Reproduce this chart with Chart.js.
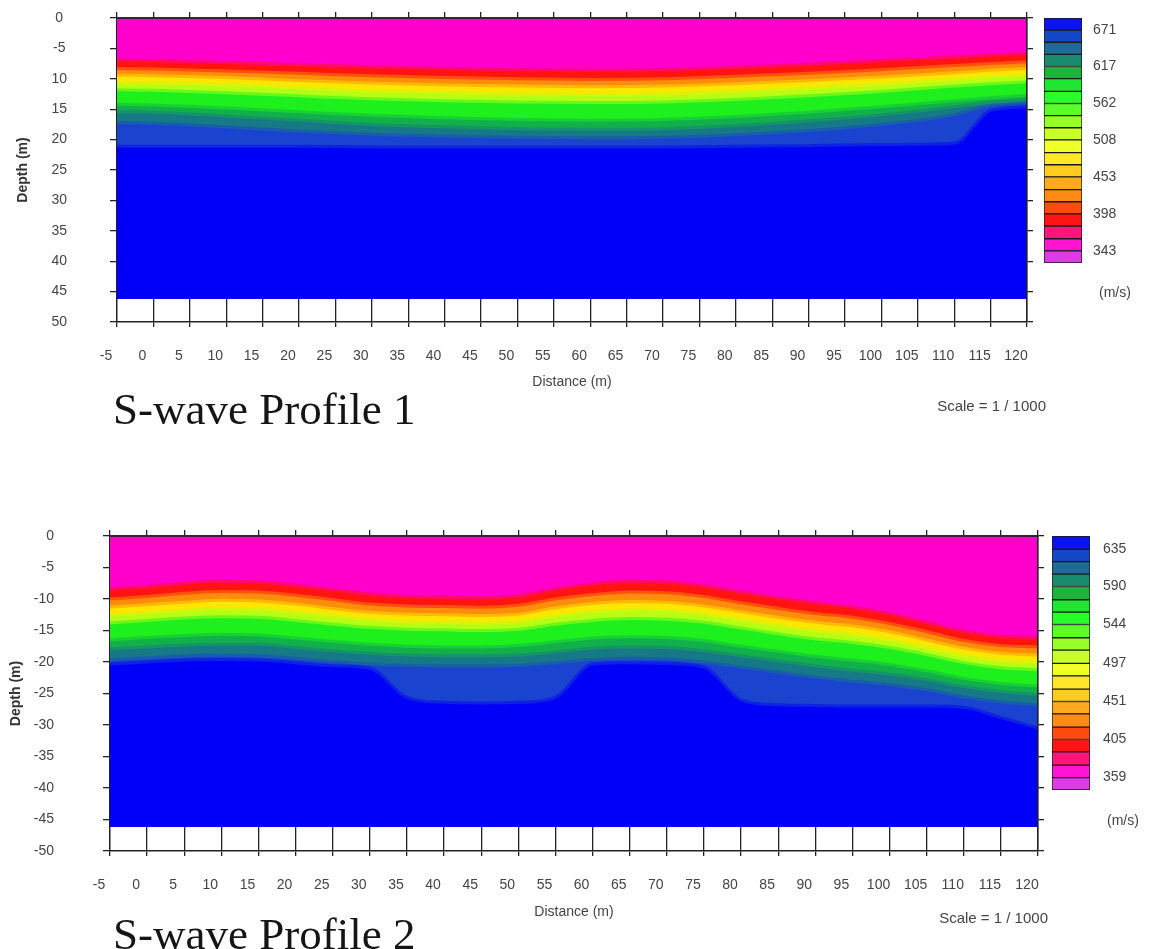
<!DOCTYPE html>
<html><head><meta charset="utf-8">
<script src="https://cdn.jsdelivr.net/npm/chart.js@4.4.1/dist/chart.umd.min.js"></script>
<style>
html,body{margin:0;padding:0;background:#fff;}
body{width:1151px;height:949px;overflow:hidden;position:relative;font-family:"Liberation Sans",Arial,sans-serif;}
canvas{position:absolute;}
.t{position:absolute;white-space:nowrap;}
.title{font-family:"Liberation Serif","Times New Roman",serif;font-size:45px;line-height:45px;color:#151515;}
.small{font-size:15px;line-height:15px;color:#444;}
.unit{font-size:14px;line-height:14px;color:#444;}
</style></head><body>
<canvas id="p1" width="1151" height="440" style="left:0;top:0"></canvas>
<canvas id="cb1" width="121" height="280" style="left:1030px;top:0"></canvas>
<canvas id="p2" width="1151" height="489" style="left:0;top:460px"></canvas>
<canvas id="cb2" width="115" height="290" style="left:1036px;top:520px"></canvas>
<div class="t title" style="left:113px;top:387px">S-wave Profile 1</div>
<div class="t title" style="left:113px;top:912px">S-wave Profile 2</div>
<div class="t small" style="right:105px;top:398px">Scale = 1 / 1000</div>
<div class="t small" style="right:103px;top:910px">Scale = 1 / 1000</div>
<div class="t unit" style="left:1099px;top:285px">(m/s)</div>
<div class="t unit" style="left:1107px;top:813px">(m/s)</div>
<script>
// ---------- tick labels ----------
const xTickLabels = ['-5','0','5','10','15','20','25','30','35','40','45','50','55','60','65','70','75','80','85','90','95','100','105','110','115','120'];
const p1YTickLabels = ['0','-5','10','15','20','25','30','35','40','45','50'];
const p2YTickLabels = ['0','-5','-10','-15','-20','-25','-30','-35','-40','-45','-50'];

// ---------- Profile 1: depth (m) of the top of each velocity band ----------
const p1Distance = [-5, 0, 10, 20, 30, 40, 50, 60, 70, 80, 90, 100, 110, 115, 120];
const p1Red      = [6.9, 7.0, 7.3, 7.7, 8.0, 8.3, 8.5, 8.6, 8.5, 8.1, 7.6, 7.0, 6.4, 6.1, 5.8];
const p1Orange   = [8.3, 8.4, 8.7, 9.1, 9.5, 9.8, 10.0, 10.1, 10.0, 9.6, 9.1, 8.5, 7.8, 7.5, 7.2];
const p1Yellow   = [9.4, 9.5, 9.8, 10.3, 10.7, 11.0, 11.2, 11.3, 11.2, 10.8, 10.3, 9.7, 9.0, 8.6, 8.3];
const p1YGreen   = [10.6, 10.7, 11.0, 11.5, 12.0, 12.3, 12.5, 12.6, 12.5, 12.1, 11.5, 10.9, 10.1, 9.7, 9.4];
const p1Green    = [11.8, 11.9, 12.3, 12.8, 13.3, 13.6, 13.8, 13.9, 13.8, 13.4, 12.8, 12.1, 11.2, 10.8, 10.5];
const p1DGreen   = [14.2, 14.3, 14.8, 15.4, 16.0, 16.4, 16.7, 16.8, 16.7, 16.2, 15.5, 14.6, 13.6, 13.1, 12.7];
const p1Teal     = [15.4, 15.5, 16.1, 16.8, 17.5, 17.9, 18.2, 18.3, 18.2, 17.7, 16.9, 15.9, 14.6, 13.9, 13.5];
const p1DBlue    = [17.2, 17.3, 17.9, 18.6, 19.1, 19.4, 19.6, 19.7, 19.6, 19.2, 18.5, 17.5, 15.9, 14.3, 13.8];
const p1Blue     = [21.1, 21.1, 21.1, 21.1, 21.2, 21.2, 21.2, 21.2, 21.2, 21.1, 21.0, 20.8, 20.6, 15.2, 14.6];

// ---------- Profile 2 ----------
const p2Distance = [-5, 0, 5, 10, 15, 20, 25, 30, 35, 40, 45, 50, 55, 60, 65, 70, 75, 80, 85, 90, 95, 100, 105, 110, 115, 120];
const p2Red      = [8.4, 8.0, 7.5, 7.2, 7.3, 7.8, 8.5, 9.2, 9.6, 9.7, 9.8, 9.5, 8.4, 7.6, 7.2, 7.3, 7.9, 8.9, 9.8, 10.6, 11.3, 12.3, 13.7, 15.1, 15.9, 16.1];
const p2Orange   = [10.0, 9.6, 9.1, 8.8, 8.9, 9.4, 10.1, 10.8, 11.1, 11.2, 11.3, 11.0, 10.0, 9.3, 8.9, 9.0, 9.6, 10.6, 11.5, 12.3, 12.9, 13.9, 15.2, 16.6, 17.4, 17.6];
const p2Yellow   = [11.3, 10.9, 10.5, 10.2, 10.3, 10.8, 11.5, 12.1, 12.4, 12.5, 12.6, 12.4, 11.4, 10.7, 10.4, 10.5, 11.1, 12.0, 12.9, 13.7, 14.3, 15.2, 16.5, 17.8, 18.6, 18.9];
const p2YGreen   = [12.5, 12.2, 11.8, 11.5, 11.6, 12.1, 12.7, 13.3, 13.6, 13.7, 13.8, 13.6, 12.7, 12.0, 11.7, 11.8, 12.4, 13.3, 14.2, 15.0, 15.6, 16.5, 17.7, 19.0, 19.8, 20.1];
const p2Green    = [13.8, 13.4, 13.0, 12.8, 12.9, 13.4, 14.0, 14.5, 14.8, 14.9, 15.0, 14.8, 14.0, 13.4, 13.1, 13.2, 13.7, 14.6, 15.5, 16.3, 16.9, 17.7, 18.8, 20.1, 20.9, 21.2];
const p2DGreen   = [16.5, 16.1, 15.8, 15.6, 15.7, 16.2, 16.7, 17.2, 17.5, 17.6, 17.6, 17.4, 16.8, 16.2, 16.0, 16.1, 16.6, 17.5, 18.3, 19.1, 19.7, 20.4, 21.4, 22.6, 23.4, 23.8];
const p2Teal     = [17.9, 17.6, 17.3, 17.2, 17.2, 17.7, 18.2, 18.6, 18.9, 19.0, 19.0, 18.9, 18.4, 17.8, 17.6, 17.7, 18.2, 19.0, 19.8, 20.6, 21.3, 21.9, 22.8, 23.9, 24.7, 25.2];
const p2DBlue    = [19.6, 19.3, 19.0, 18.9, 19.0, 19.4, 19.9, 20.3, 20.5, 20.6, 20.6, 20.5, 20.1, 19.6, 19.4, 19.5, 20.0, 20.8, 21.6, 22.4, 23.0, 23.6, 24.4, 25.5, 26.3, 26.8];
const p2Blue     = [20.3, 20.0, 19.7, 19.6, 19.7, 20.1, 20.6, 21.0, 25.6, 26.4, 26.5, 26.4, 25.6, 20.3, 20.1, 20.2, 20.8, 26.0, 26.8, 26.9, 27.0, 27.0, 27.0, 27.2, 28.8, 30.5];

const modelBottom = 46.2;   // depth where the velocity model ends (m)

// colour of each band, from the surface down
const bandColors = ['#ff00cc','#ff1410','#ff8c0a','#ffe600','#b4ff14','#1ef01e','#12b04a','#167a86','#1a44d0','#0000f8'];

// ---------- colour scales ----------
const cb1Levels = [325, 343, 361, 380, 398, 416, 434, 453, 471, 489, 508, 526, 544, 562, 580, 599, 617, 635, 653, 671, 689];
const cb1Ticks  = [343, 398, 453, 508, 562, 617, 671];
const cb2Levels = [344, 359, 374, 390, 405, 420, 436, 451, 466, 482, 497, 513, 528, 544, 559, 574, 590, 605, 620, 635, 651];
const cb2Ticks  = [359, 405, 451, 497, 544, 590, 635];
const cbColors  = ['#dc3ce6','#ff14d2','#ff1478','#ff1414','#ff4a0f','#ff8a14','#ffaa1e','#ffcc1e','#ffe628','#f0ff28',
                   '#c8ff28','#96ff28','#5aff28','#28ff28','#1ee632','#1eb43c','#1a8c6e','#1e6a9a','#1446c8','#0a14f0'];

Chart.defaults.font.family = '"Liberation Sans", Arial, sans-serif';
Chart.defaults.animation = false;

function mixColor(a, b) {
  const pa = [1, 3, 5].map(k => parseInt(a.substr(k, 2), 16));
  const pb = [1, 3, 5].map(k => parseInt(b.substr(k, 2), 16));
  return 'rgb(' + pa.map((v, k) => Math.round((v + pb[k]) / 2)).join(',') + ')';
}

function bandDatasets(xs, contours) {
  const ds = contours.map((arr, i) => ({
    data: xs.map((x, j) => ({x: x, y: arr[j]})),
    xAxisID: 'x', yAxisID: 'y',
    fill: i === 0 ? {value: 0} : '-1',
    backgroundColor: bandColors[i],
    borderColor: mixColor(bandColors[i], bandColors[i + 1]),
    borderWidth: 3,
    pointRadius: 0,
    cubicInterpolationMode: 'monotone',
    clip: 0
  }));
  const last = contours[contours.length - 1];
  ds.push({
    data: xs.map((x, j) => ({x: x, y: last[j]})),
    xAxisID: 'x', yAxisID: 'y',
    fill: {value: modelBottom},
    backgroundColor: bandColors[contours.length],
    borderColor: bandColors[contours.length],
    borderWidth: 0,
    pointRadius: 0,
    cubicInterpolationMode: 'monotone',
    clip: 0
  });
  return ds;
}

function makeProfile(id, xs, contours, yLabels, g) {
  const dark = '#222';
  new Chart(document.getElementById(id), {
    type: 'line',
    data: {datasets: bandDatasets(xs, contours)},
    options: {
      responsive: false, animation: false, devicePixelRatio: 1,
      layout: {padding: 0},
      plugins: {legend: {display: false}, tooltip: {enabled: false}},
      scales: {
        x: {
          type: 'linear', axis: 'x', position: 'bottom', min: -5, max: 120,
          afterFit: s => { s.height = g.bottomH; s.paddingLeft = 0; s.paddingRight = 0; },
          ticks: {stepSize: 5, autoSkip: false, maxRotation: 0, padding: 21, labelOffset: -11,
                  color: '#444', font: {size: 14}, callback: v => xTickLabels[Math.round((v + 5) / 5)]},
          grid: {color: dark, lineWidth: 1.3, tickLength: 5, drawOnChartArea: true},
          border: {color: dark, width: 1.5},
          title: {display: true, text: 'Distance (m)', color: '#444', font: {size: 14},
                  padding: {top: 0, bottom: g.xTitlePad}}
        },
        xTop: {
          type: 'linear', axis: 'x', position: 'top', min: -5, max: 120,
          afterFit: s => { s.height = g.topH; s.paddingLeft = 0; s.paddingRight = 0; },
          ticks: {display: false, stepSize: 5, autoSkip: false},
          grid: {drawOnChartArea: false, tickLength: 6, color: dark, lineWidth: 1.3},
          border: {color: '#3a1f3a', width: 2, z: 1}
        },
        y: {
          type: 'linear', axis: 'y', position: 'left', reverse: true, min: 0, max: 50,
          afterFit: s => { s.width = g.left; s.paddingTop = 0; s.paddingBottom = 0; },
          ticks: {stepSize: 5, autoSkip: false, padding: g.yPad, crossAlign: g.yAlign,
                  color: '#444', font: {size: 14}, callback: v => yLabels[Math.round(v / 5)]},
          grid: {drawOnChartArea: false, tickLength: 7, color: dark, lineWidth: 1.3},
          border: {color: dark, width: 1.3},
          title: {display: true, text: 'Depth (m)', color: '#333', font: {size: 14, weight: 'bold'},
                  padding: {top: g.yTitlePad, bottom: 0}}
        },
        yRight: {
          type: 'linear', axis: 'y', position: 'right', reverse: true, min: 0, max: 50,
          afterFit: s => { s.width = g.rightW; s.paddingTop = 0; s.paddingBottom = 0; },
          ticks: {display: false, stepSize: 5},
          grid: {drawOnChartArea: false, tickLength: 6, color: dark, lineWidth: 1.3},
          border: {color: dark, width: 1.5, z: 1}
        }
      }
    }
  });
}

function makeColorbar(id, levels, tickValues, g) {
  const datasets = cbColors.map((c, i) => ({
    data: [[levels[i], levels[i + 1]]],
    backgroundColor: c, borderColor: '#1a1a1a', borderWidth: 1, borderSkipped: false,
    grouped: false, barPercentage: 1, categoryPercentage: 1
  }));
  new Chart(document.getElementById(id), {
    type: 'bar',
    data: {labels: ['v'], datasets: datasets},
    options: {
      responsive: false, animation: false, devicePixelRatio: 1,
      layout: {padding: {left: g.padL, top: g.padT, bottom: g.padB, right: 0}},
      plugins: {legend: {display: false}, tooltip: {enabled: false}},
      scales: {
        x: {display: false},
        y: {
          position: 'right', min: levels[0], max: levels[levels.length - 1],
          afterBuildTicks: s => { s.ticks = tickValues.map(v => ({value: v})); },
          afterFit: s => { s.width = g.rightW; s.paddingTop = 0; s.paddingBottom = 0; },
          ticks: {padding: g.labelPad, color: '#444', font: {size: 14}},
          grid: {display: false, drawTicks: false},
          border: {display: false}
        }
      }
    }
  });
}

makeProfile('p1', p1Distance,
  [p1Red, p1Orange, p1Yellow, p1YGreen, p1Green, p1DGreen, p1Teal, p1DBlue, p1Blue],
  p1YTickLabels,
  {bottomH: 118, topH: 18, left: 117, rightW: 124, xTitlePad: 49, yPad: 43, yAlign: 'center', yTitlePad: 15});

makeProfile('p2', p2Distance,
  [p2Red, p2Orange, p2Yellow, p2YGreen, p2Green, p2DGreen, p2Teal, p2DBlue, p2Blue],
  p2YTickLabels,
  {bottomH: 98, topH: 76, left: 110, rightW: 113, xTitlePad: 28, yPad: 49, yAlign: 'near', yTitlePad: 8});

makeColorbar('cb1', cb1Levels, cb1Ticks, {padL: 14, padT: 18, padB: 17, rightW: 69, labelPad: 11});
makeColorbar('cb2', cb2Levels, cb2Ticks, {padL: 16, padT: 16, padB: 20, rightW: 61, labelPad: 13});
</script>
</body></html>
